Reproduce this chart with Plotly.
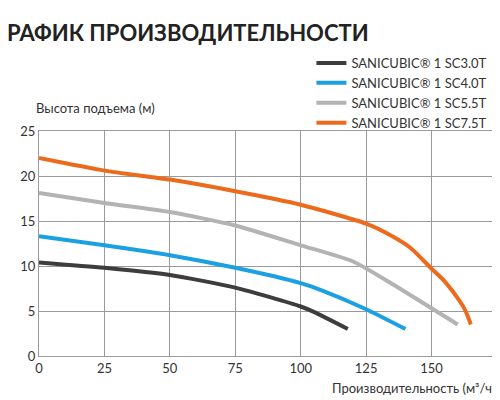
import plotly.graph_objects as go

# Data
names = ['SANICUBIC® 1 SC3.0T', 'SANICUBIC® 1 SC4.0T', 'SANICUBIC® 1 SC5.5T', 'SANICUBIC® 1 SC7.5T']
colors = ['#3d3d3d', '#1ba1e2', '#b3b3b3', '#ec6a1c']

x_30 = [0, 25, 50, 75, 100, 105, 118]
y_30 = [10.4, 9.8, 9.0, 7.6, 5.5, 4.9, 3.0]
x_40 = [0, 25, 50, 75, 100, 108, 125, 140]
y_40 = [13.3, 12.3, 11.2, 9.8, 8.1, 7.3, 5.2, 3.0]
x_55 = [0, 25, 50, 75, 100, 120, 135, 150, 160]
y_55 = [18.1, 17.0, 16.0, 14.5, 12.3, 10.5, 8.0, 5.3, 3.5]
x_75 = [0, 25, 50, 75, 100, 125, 135, 142, 150, 155, 161, 163, 165]
y_75 = [22.0, 20.6, 19.6, 18.3, 16.8, 14.7, 13.3, 12.0, 9.7, 8.3, 6.0, 5.0, 3.5]

series = [(x_30, y_30), (x_40, y_40), (x_55, y_55), (x_75, y_75)]
FONT = 'Lato, "Open Sans", sans-serif'

fig = go.Figure()
for (xs, ys), name, color in zip(series, names, colors):
    fig.add_trace(go.Scatter(x=xs, y=ys, name=name, mode='lines',
                             line=dict(color=color, width=4, shape='spline', smoothing=0.6)))

axis_style = dict(showgrid=True, gridcolor='#9a9a9a', gridwidth=1, zeroline=False,
                  showline=True, linecolor='#9a9a9a', mirror=True, ticks='',
                  automargin=False, tickfont=dict(size=13, color='#333'))
fig.update_layout(
    width=500, height=400,
    margin=dict(l=31, r=11, t=123, b=52, autoexpand=False),
    paper_bgcolor='white', plot_bgcolor='white',
    font=dict(family=FONT, color='#333'),
    xaxis=dict(range=[0, 175], dtick=25, **axis_style),
    yaxis=dict(range=[0, 25], dtick=5, **axis_style),
    legend=dict(x=0.99, xanchor='right', y=0.9, yanchor='top', yref='container',
                font=dict(size=13, color='#333'), bgcolor='rgba(0,0,0,0)',
                tracegroupgap=0),
    showlegend=True,
)
fig.add_annotation(text='<b>ГРАФИК ПРОИЗВОДИТЕЛЬНОСТИ</b>', xref='paper', yref='paper',
                   x=-0.1, y=1.44, xanchor='left', yanchor='middle', showarrow=False,
                   font=dict(size=22, color='#222'))
fig.add_annotation(text='Высота подъема (м)', xref='paper', yref='paper',
                   x=-0.01, y=1.1, xanchor='left', yanchor='middle', showarrow=False,
                   font=dict(size=13, color='#333'))
fig.add_annotation(text='Производительность (м³/ч)', xref='paper', yref='paper',
                   x=1.0, y=-0.14, xanchor='right', yanchor='middle', showarrow=False,
                   font=dict(size=13, color='#333'))

fig.write_html("out.html")
